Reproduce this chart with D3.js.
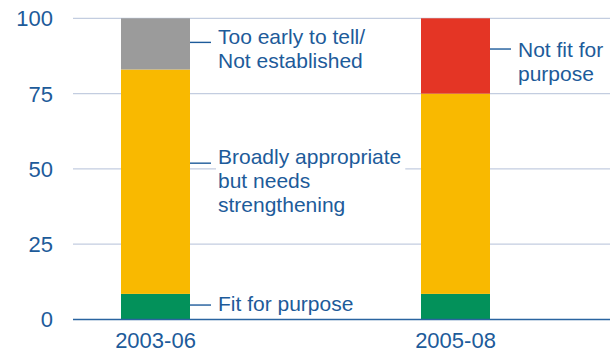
<!DOCTYPE html>
<html>
<head>
<meta charset="utf-8">
<script src="https://cdn.jsdelivr.net/npm/d3@7/dist/d3.min.js"></script>
<style>
  html, body { margin: 0; padding: 0; background: #fff; }
  svg { display: block; }
  text { font-family: "Liberation Sans", Arial, sans-serif; fill: #1d5b9a; }
</style>
</head>
<body>
<svg id="chart" width="610" height="353"></svg>
<script>
// ---- data ----
const categories = ["2003-06", "2005-08"];
const seriesNames = ["Fit for purpose", "Broadly appropriate but needs strengthening", "Too early to tell/Not established", "Not fit for purpose"];
const fitForPurpose = [8.5, 8.5];
const broadlyAppropriate = [74.5, 66.5];
const tooEarly = [17, 0];
const notFit = [0, 25];
const yTicks = [0, 25, 50, 75, 100];

const colors = {
  "Fit for purpose": "#03915a",
  "Broadly appropriate but needs strengthening": "#f9b900",
  "Too early to tell/Not established": "#9b9b9b",
  "Not fit for purpose": "#e43525"
};

// label annotations: which bar, leader value, text lines
const labels = [
  { bar: "2003-06", value: 92, lines: ["Too early to tell/", "Not established"], dy: 1.4, mask: false },
  { bar: "2003-06", value: 51.9, lines: ["Broadly appropriate", "but needs", "strengthening"], dy: 1, mask: true },
  { bar: "2003-06", value: 4.8, lines: ["Fit for purpose"], dy: 5.7, mask: false },
  { bar: "2005-08", value: 89.8, lines: ["Not fit for", "purpose"], dy: 8.4, mask: false }
];

const table = categories.map((c, i) => ({
  cat: c,
  "Fit for purpose": fitForPurpose[i],
  "Broadly appropriate but needs strengthening": broadlyAppropriate[i],
  "Too early to tell/Not established": tooEarly[i],
  "Not fit for purpose": notFit[i]
}));

const svg = d3.select("#chart");
const x0 = 73, x1 = 610;
const y = d3.scaleLinear().domain([0, 100]).range([319.5, 18.3]);
const x = d3.scalePoint().domain(categories).range([155.5, 455.5]);
const barW = 69;

// gridlines
svg.append("g").selectAll("line").data(yTicks.filter(t => t > 0)).join("line")
  .attr("x1", x0).attr("x2", x1)
  .attr("y1", d => y(d)).attr("y2", d => y(d))
  .attr("stroke", "#c3cde0").attr("stroke-width", 1.3);

// y tick labels
svg.append("g").selectAll("text").data(yTicks).join("text")
  .attr("x", 53).attr("y", d => y(d)).attr("dy", "0.36em")
  .attr("text-anchor", "end").style("font-size", "22px")
  .text(d => d);

// stacked bars
const stack = d3.stack().keys(seriesNames)(table);
svg.append("g").selectAll("g").data(stack).join("g")
  .attr("fill", d => colors[d.key])
  .selectAll("rect").data(d => d).join("rect")
  .attr("x", d => x(d.data.cat) - barW / 2)
  .attr("width", barW)
  .attr("y", d => y(d[1]))
  .attr("height", d => y(d[0]) - y(d[1]));

// baseline
svg.append("line").attr("x1", x0).attr("x2", x1)
  .attr("y1", y(0)).attr("y2", y(0))
  .attr("stroke", "#2a64a0").attr("stroke-width", 1.5);

// x labels
svg.append("g").selectAll("text").data(categories).join("text")
  .attr("x", d => x(d)).attr("y", 348)
  .attr("text-anchor", "middle").style("font-size", "22px")
  .text(d => d);

// annotations
labels.forEach(l => {
  const bx = x(l.bar) + barW / 2;
  const ly = y(l.value);
  const g = svg.append("g");
  g.append("line").attr("x1", bx).attr("x2", bx + 21)
    .attr("y1", ly).attr("y2", ly)
    .attr("stroke", "#1d5b9a").attr("stroke-width", 1.4);
  const t = g.append("text").style("font-size", "21px");
  l.lines.forEach((s, i) => {
    t.append("tspan").attr("x", bx + 28).attr("y", ly + l.dy + i * 24).text(s);
  });
  if (l.mask) {
    const bb = t.node().getBBox();
    g.insert("rect", "text")
      .attr("x", bb.x - 2).attr("y", bb.y).attr("width", bb.width + 6).attr("height", bb.height)
      .attr("fill", "#fff");
  }
});
</script>
</body>
</html>
